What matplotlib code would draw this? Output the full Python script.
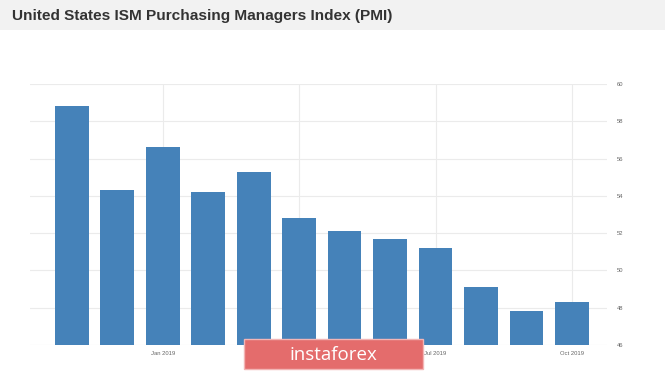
import matplotlib
matplotlib.use("Agg")
import matplotlib.pyplot as plt
from matplotlib.patches import Rectangle

months = ["Nov 2018", "Dec 2018", "Jan 2019", "Feb 2019", "Mar 2019", "Apr 2019",
          "May 2019", "Jun 2019", "Jul 2019", "Aug 2019", "Sep 2019", "Oct 2019"]
pmi = [58.8, 54.3, 56.6, 54.2, 55.3, 52.8, 52.1, 51.7, 51.2, 49.1, 47.8, 48.3]
tick_labels = ["Jan 2019", "Apr 2019", "Jul 2019", "Oct 2019"]
y_ticks = [46, 48, 50, 52, 54, 56, 58, 60]
title = "United States ISM Purchasing Managers Index (PMI)"

plt.rcParams['font.family'] = ['Liberation Sans', 'DejaVu Sans']

fig = plt.figure(figsize=(6.65, 3.71), dpi=100)
fig.patch.set_facecolor("white")

# header band
fig.patches.append(Rectangle((0, 1 - 30/371), 1, 30/371, transform=fig.transFigure,
                             facecolor="#f2f2f2", edgecolor="none", zorder=0))
fig.text(12/665, 1 - 16/371, title, fontsize=11.1, fontweight="bold",
         color="#333333", va="center", ha="left")

ax = fig.add_axes([30/665, 1 - 345/371, (607 - 30)/665, (345 - 84)/371])
x = list(range(len(pmi)))
ax.bar(x, pmi, width=0.74, color="#4582b9", zorder=3, bottom=0)
ax.set_ylim(46, 60)
ax.set_xlim(-0.92, len(pmi) - 1 + 0.77)

tick_pos = [months.index(t) for t in tick_labels]
ax.set_xticks(tick_pos)
ax.set_xticklabels(tick_labels)
ax.set_yticks(y_ticks)
ax.yaxis.tick_right()
ax.tick_params(axis="both", length=0, labelsize=4.2, colors="#666666")
ax.tick_params(axis="y", pad=7)
ax.tick_params(axis="x", pad=4)
ax.grid(True, color="#ebebeb", linewidth=0.8, zorder=0)
for s in ax.spines.values():
    s.set_visible(False)

# watermark
fig.patches.append(Rectangle((244/665, 1 - 369/371), (423 - 244)/665, 30/371,
                             transform=fig.transFigure, facecolor="#e46c6c",
                             edgecolor="#f3b5b5", linewidth=1, zorder=10))
fig.text(333/665, 1 - 355/371, "instaforex", fontsize=13.5, color="white",
         ha="center", va="center", zorder=11, family=["Open Sans", "DejaVu Sans"])

fig.savefig("out.png", dpi=100)
